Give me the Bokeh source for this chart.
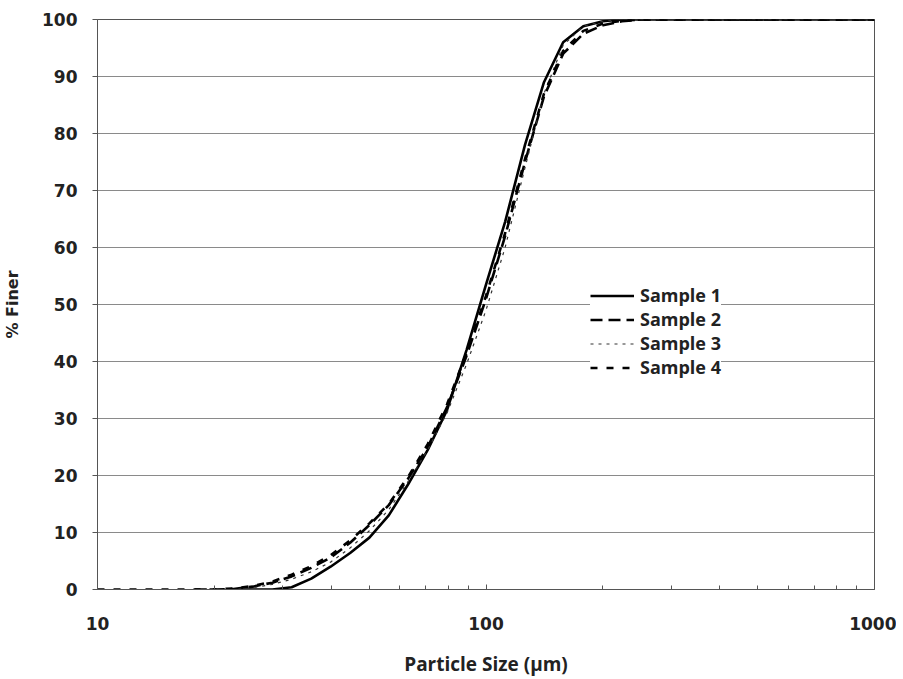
from bokeh.plotting import figure
from bokeh.models import Legend, LegendItem, FixedTicker, Range1d
from bokeh.embed import file_html
from bokeh.resources import INLINE

nan = float("nan")

sizes = [10.0, 11.2, 12.6, 14.1, 15.8, 17.8, 20.0, 22.4, 25.1, 28.2, 31.6, 35.5, 39.8,
         44.7, 50.1, 56.2, 63.1, 70.8, 79.4, 89.1, 100.0, 112.0, 126.0, 141.0, 158.0,
         178.0, 200.0, 224.0, 251.0, 282.0, 316.0, 355.0, 398.0, 447.0, 501.0, 562.0,
         631.0, 708.0, 794.0, 891.0, 1000.0]

sample1 = [nan, nan, nan, nan, nan, nan, nan,
           0, 0, 0, 0.4, 1.9, 4.0, 6.4, 9.1, 13.0, 18.5, 24.5, 31.5, 42, 53.5, 64.5,
           78, 89, 96, 98.8, 99.7, 100, 100,
           100, 100, 100, 100, 100, 100, 100, 100, 100, 100, 100, 100]
sample2 = [nan, nan, nan, nan, nan,
           0, 0, 0.1, 0.5, 1.2, 2.3, 3.8, 5.6, 8.2, 11.3, 14.8, 19.5, 25, 32, 41, 51, 62,
           75, 86.5, 94, 97.5, 99, 99.7, 100,
           100, 100, 100, 100, 100, 100, 100, 100, 100, 100, 100, 100]
sample3 = [nan, nan, nan, nan, nan, nan,
           0, 0, 0.3, 0.9, 1.8, 3.1, 4.8, 7.3, 10.3, 14.0, 19.0, 24.5, 31, 39.5, 49, 60,
           74, 87, 95.5, 98.8, 99.7, 100, 100,
           100, 100, 100, 100, 100, 100, 100, 100, 100, 100, 100, 100]
sample4 = [0, 0, 0, 0, 0, 0, 0,
           0.2, 0.6, 1.4, 2.6, 4.1, 6.0, 8.6, 11.6, 15.0, 19.8, 25.5, 32.5, 41.5, 51.5,
           62.5, 75.5, 87, 94.5, 98, 99.3, 99.8, 100,
           100, 100, 100, 100, 100, 100, 100, 100, 100, 100, 100, 100]

series_names = ["Sample 1", "Sample 2", "Sample 3", "Sample 4"]
y_ticks = [0, 10, 20, 30, 40, 50, 60, 70, 80, 90, 100]
x_ticks = [10, 100, 1000]
x_minor_ticks = [20, 30, 40, 50, 60, 70, 80, 90, 200, 300, 400, 500, 600, 700, 800, 900]

p = figure(frame_width=777, frame_height=570, x_axis_type="log", output_backend="svg",
           toolbar_location=None, x_range=Range1d(10, 1000), y_range=Range1d(0, 100),
           min_border_left=96, min_border_right=22, min_border_top=19, min_border_bottom=60)

p.background_fill_color = "white"
p.border_fill_color = "white"
p.outline_line_color = "#555555"
p.outline_line_width = 1

r1 = p.line(sizes, sample1, line_color="black", line_width=2.6)
r2 = p.line(sizes, sample2, line_color="black", line_width=2.6, line_dash="12 6")
r3 = p.line(sizes, sample3, line_color="#333333", line_width=1.2, line_dash="3 5")
r4 = p.line(sizes, sample4, line_color="black", line_width=2.6, line_dash="7 9")

p.xgrid.visible = False
p.ygrid.grid_line_color = "#8a8a8a"
p.ygrid.grid_line_width = 1.2
p.yaxis.ticker = FixedTicker(ticks=y_ticks)
p.xaxis.ticker = FixedTicker(ticks=x_ticks, minor_ticks=x_minor_ticks)

for ax in (p.xaxis[0], p.yaxis[0]):
    ax.axis_line_color = "#555555"
    ax.major_tick_line_color = "#555555"
    ax.minor_tick_line_color = "#555555"
    ax.major_label_text_font = "DejaVu Sans"
    ax.major_label_text_font_style = "bold"
    ax.major_label_text_font_size = "17px"
    ax.major_label_text_color = "#222222"
    ax.axis_label_text_font_style = "bold"
    ax.axis_label_text_color = "#222222"

p.xaxis.major_tick_in = 5
p.xaxis.major_tick_out = 0
p.xaxis.minor_tick_in = 4
p.xaxis.minor_tick_out = 0
p.yaxis.major_tick_in = 0
p.yaxis.major_tick_out = 5
p.yaxis.minor_tick_line_color = None

p.xaxis.axis_label = "Particle Size (µm)"
p.xaxis.axis_label_text_font = "Open Sans"
p.xaxis.axis_label_text_font_size = "19px"
p.yaxis.axis_label = "% Finer"
p.yaxis.axis_label_text_font = "DejaVu Sans"
p.yaxis.axis_label_text_font_size = "16px"

p.xaxis.major_label_standoff = 27
p.xaxis.axis_label_standoff = 18
p.yaxis.major_label_standoff = 15
p.yaxis.axis_label_standoff = 17
p.xaxis.major_label_overrides = {10: "10", 100: "100", 1000: "1000"}

legend = Legend(items=[LegendItem(label=n, renderers=[r]) for n, r in
                       zip(series_names, [r1, r2, r3, r4])],
                location=(493, 210))
legend.background_fill_color = "white"
legend.background_fill_alpha = 1.0
legend.border_line_color = None
legend.label_text_font = "Open Sans"
legend.label_text_font_style = "bold"
legend.label_text_font_size = "18px"
legend.label_text_color = "#222222"
legend.glyph_width = 44
legend.glyph_height = 19
legend.label_height = 19
legend.spacing = 0
legend.padding = 25
legend.label_standoff = 6
legend.margin = 0
p.add_layout(legend, "center")

open("out.html", "w").write(file_html(p, INLINE))
